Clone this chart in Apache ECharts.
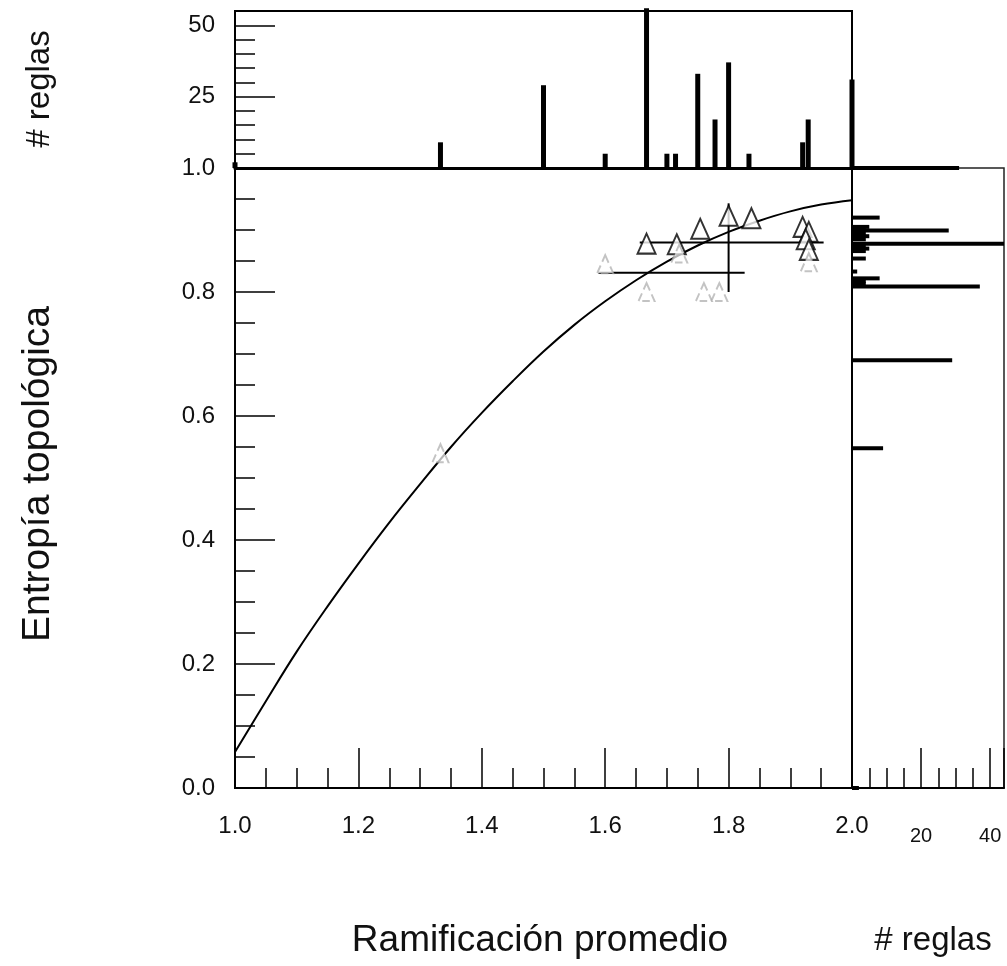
<!DOCTYPE html>
<html>
<head>
<meta charset="utf-8">
<script src="https://cdn.jsdelivr.net/npm/echarts@6/dist/echarts.min.js"></script>
<style>
html,body{margin:0;padding:0;background:#fff;}
#c{width:1007px;height:966px;}
</style>
</head>
<body>
<div id="c"></div>
<script>
// ---- data ----
// fitted curve (ramificación, entropía)
const curveX = [1.0, 1.05, 1.1, 1.15, 1.2, 1.25, 1.3, 1.35, 1.4, 1.45, 1.5, 1.55, 1.6, 1.65, 1.7, 1.75, 1.8, 1.85, 1.9, 1.95, 2.0];
const curveY = [0.058, 0.140, 0.220, 0.293, 0.362, 0.428, 0.490, 0.550, 0.605, 0.656, 0.704, 0.747, 0.785, 0.819, 0.849, 0.875, 0.897, 0.915, 0.930, 0.941, 0.948];
// triangles (clear)
const triX = [1.667, 1.716, 1.754, 1.80, 1.837, 1.92, 1.93, 1.925, 1.93];
const triY = [0.878, 0.877, 0.902, 0.923, 0.919, 0.905, 0.897, 0.885, 0.868];
// triangles (faint)
const faintX = [1.6, 1.667, 1.76, 1.785, 1.333, 1.72, 1.93];
const faintY = [0.845, 0.80, 0.80, 0.80, 0.54, 0.862, 0.848];
// error bars [x1, y1, x2, y2]
const errBars = [[1.656, 0.880, 1.954, 0.880], [1.589, 0.831, 1.826, 0.831], [1.80, 0.80, 1.80, 0.943]];
// top histogram: ramificación -> # reglas
const topX = [1.0, 1.333, 1.5, 1.6, 1.667, 1.7, 1.714, 1.75, 1.778, 1.8, 1.833, 1.92, 1.929, 2.0];
const topN = [2, 9, 29, 5, 56, 5, 5, 33, 17, 37, 5, 9, 17, 31];
// right histogram: entropía -> # reglas
const rightE = [1.0, 0.920, 0.905, 0.900, 0.899, 0.895, 0.890, 0.885, 0.878, 0.875, 0.870, 0.866, 0.854, 0.833, 0.822, 0.818, 0.813, 0.809, 0.690, 0.548, 0.0];
const rightN = [31, 8, 5, 4, 28, 4, 5, 4, 57, 4, 5, 4, 4, 1.5, 8, 4, 4, 37, 29, 9, 2];
// tick labels
const xTicksMain = [1.0, 1.2, 1.4, 1.6, 1.8, 2.0];
const yTicksMain = [0.0, 0.2, 0.4, 0.6, 0.8, 1.0];
const topTickLabels = [25, 50];
const rightTickLabels = [20, 40];

const FONT = "'Liberation Sans', Arial, sans-serif";
const RIGHT_MAX = 44;
const TOP_MAX = 55;

const chart = echarts.init(document.getElementById('c'), null, {renderer: 'canvas'});

const lineAxis = {show: true, lineStyle: {color: '#000', width: 2}};

const option = {
  backgroundColor: '#fff',
  animation: false,
  grid: [
    {left: 235, top: 168, width: 617, height: 620, show: true, borderColor: '#000', borderWidth: 2, backgroundColor: 'transparent'},
    {left: 235, top: 11, width: 617, height: 157, show: true, borderColor: '#000', borderWidth: 2, backgroundColor: 'transparent'},
    {left: 852, top: 168, width: 154, height: 620, show: true, borderColor: '#222', borderWidth: 1.5, backgroundColor: 'transparent'}
  ],
  xAxis: [
    { // 0 main
      gridIndex: 0, type: 'value', position: 'bottom', min: 1, max: 2, interval: 0.2,
      axisLine: lineAxis,
      axisTick: {show: true, inside: true, length: 40, lineStyle: {color: '#000', width: 1.5}},
      minorTick: {show: true, splitNumber: 4, length: 20, lineStyle: {color: '#000', width: 1.5}},
      splitLine: {show: false},
      axisLabel: {fontFamily: FONT, fontSize: 24, color: '#111', margin: 26,
        formatter: v => xTicksMain.some(t => Math.abs(t - v) < 1e-6) ? v.toFixed(1) : ''}
    },
    { // 1 top hist x
      gridIndex: 1, type: 'value', position: 'bottom', min: 1, max: 2,
      axisLine: {show: true, lineStyle: {color: '#000', width: 3}},
      axisTick: {show: false}, axisLabel: {show: false}, splitLine: {show: false}
    },
    { // 2 right minor ticks
      gridIndex: 2, type: 'value', position: 'bottom', min: 0, max: RIGHT_MAX, interval: 5,
      axisLine: lineAxis,
      axisTick: {show: true, inside: true, length: 20, lineStyle: {color: '#000', width: 1.5}},
      axisLabel: {show: false}, splitLine: {show: false}
    },
    { // 3 right major ticks + labels
      gridIndex: 2, type: 'value', position: 'bottom', offset: 0, min: 0, max: RIGHT_MAX, interval: 20,
      axisLine: {show: false},
      axisTick: {show: true, inside: true, length: 40, lineStyle: {color: '#000', width: 1.5}},
      splitLine: {show: false},
      axisLabel: {fontFamily: FONT, fontSize: 20, color: '#111', margin: 38,
        formatter: v => rightTickLabels.indexOf(v) >= 0 ? String(v) : ''}
    }
  ],
  yAxis: [
    { // 0 main
      gridIndex: 0, type: 'value', position: 'left', min: 0, max: 1, interval: 0.2,
      axisLine: lineAxis,
      axisTick: {show: true, inside: true, length: 40, lineStyle: {color: '#000', width: 1.5}},
      minorTick: {show: true, splitNumber: 4, length: 20, lineStyle: {color: '#000', width: 1.5}},
      splitLine: {show: false},
      axisLabel: {fontFamily: FONT, fontSize: 24, color: '#111', margin: 20,
        formatter: v => yTicksMain.some(t => Math.abs(t - v) < 1e-6) ? v.toFixed(1) : ''}
    },
    { // 1 top minor
      gridIndex: 1, type: 'value', position: 'left', min: 0, max: TOP_MAX, interval: 5,
      axisLine: lineAxis,
      axisTick: {show: true, inside: true, length: 20, lineStyle: {color: '#000', width: 1.5}},
      axisLabel: {show: false}, splitLine: {show: false}
    },
    { // 2 top major
      gridIndex: 1, type: 'value', position: 'left', offset: 0, min: 0, max: TOP_MAX, interval: 25,
      axisLine: {show: false},
      axisTick: {show: true, inside: true, length: 40, lineStyle: {color: '#000', width: 1.5}},
      splitLine: {show: false},
      axisLabel: {fontFamily: FONT, fontSize: 24, color: '#111', margin: 20,
        formatter: v => topTickLabels.indexOf(v) >= 0 ? String(v) : ''}
    },
    { // 3 right y
      gridIndex: 2, type: 'value', position: 'left', min: 0, max: 1,
      axisLine: lineAxis,
      axisTick: {show: false}, axisLabel: {show: false}, splitLine: {show: false}
    }
  ],
  graphic: [
    {type: 'text', x: 38, y: 474, rotation: Math.PI / 2,
      style: {text: 'Entropía topológica', font: '39px ' + FONT, fill: '#111', textAlign: 'center', textVerticalAlign: 'middle'}},
    {type: 'text', x: 40, y: 89, rotation: Math.PI / 2,
      style: {text: '# reglas', font: '33px ' + FONT, fill: '#111', textAlign: 'center', textVerticalAlign: 'middle'}},
    {type: 'text', x: 540, y: 941,
      style: {text: 'Ramificación promedio', font: '37px ' + FONT, fill: '#111', textAlign: 'center', textVerticalAlign: 'middle'}},
    {type: 'text', x: 933, y: 941,
      style: {text: '# reglas', font: '33px ' + FONT, fill: '#111', textAlign: 'center', textVerticalAlign: 'middle'}}
  ],
  series: [
    {
      type: 'line', xAxisIndex: 0, yAxisIndex: 0, smooth: 0.4, showSymbol: false, symbol: 'none',
      lineStyle: {color: '#000', width: 2},
      data: curveX.map((x, i) => [x, curveY[i]]), z: 3
    },
    {
      type: 'custom', xAxisIndex: 0, yAxisIndex: 0,
      encode: {x: [0, 2], y: [1, 3]},
      data: errBars,
      renderItem: (params, api) => {
        const a = api.coord([api.value(0), api.value(1)]);
        const b = api.coord([api.value(2), api.value(3)]);
        return {type: 'line', shape: {x1: a[0], y1: a[1], x2: b[0], y2: b[1]}, style: {stroke: '#000', lineWidth: 2}};
      }, z: 4
    },
    {
      type: 'scatter', xAxisIndex: 0, yAxisIndex: 0, symbol: 'emptyTriangle', symbolSize: [18, 20],
      itemStyle: {color: '#000', borderColor: '#000', borderWidth: 1.3},
      data: triX.map((x, i) => [x, triY[i]]), z: 5
    },
    {
      type: 'scatter', xAxisIndex: 0, yAxisIndex: 0, symbol: 'emptyTriangle', symbolSize: [16, 18],
      itemStyle: {color: '#aaa', borderColor: '#aaa', borderWidth: 1, borderType: 'dashed', opacity: 0.7},
      data: faintX.map((x, i) => [x, faintY[i]]), z: 5
    },
    {
      type: 'custom', xAxisIndex: 1, yAxisIndex: 2,
      encode: {x: 0, y: 1},
      data: topX.map((x, i) => [x, topN[i]]),
      renderItem: (params, api) => {
        const p0 = api.coord([api.value(0), 0]);
        const p1 = api.coord([api.value(0), api.value(1)]);
        const w = 5;
        return {type: 'rect', shape: {x: p0[0] - w / 2, y: p1[1], width: w, height: p0[1] - p1[1]}, style: {fill: '#000'}};
      }, z: 4
    },
    {
      type: 'custom', xAxisIndex: 3, yAxisIndex: 3,
      encode: {x: 1, y: 0},
      data: rightE.map((e, i) => [e, rightN[i]]),
      renderItem: (params, api) => {
        const e = api.value(0);
        const n = Math.min(api.value(1), RIGHT_MAX);
        const p0 = api.coord([0, e]);
        const p1 = api.coord([n, e]);
        const h = 4;
        return {type: 'rect', shape: {x: p0[0], y: p0[1] - h / 2, width: p1[0] - p0[0], height: h}, style: {fill: '#000'}};
      }, z: 4
    }
  ]
};
chart.setOption(option);
</script>
</body>
</html>
